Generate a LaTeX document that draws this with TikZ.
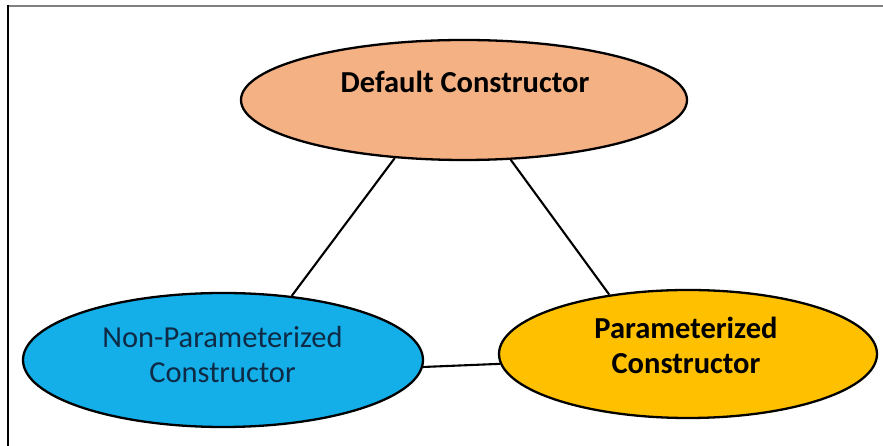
\documentclass[tikz,border=0pt]{standalone}
\usepackage{fontspec}
\setmainfont{Carlito}
\usetikzlibrary{shapes.geometric}
\definecolor{peach}{HTML}{F4B183}
\definecolor{skyblue}{HTML}{14AEE8}
\definecolor{amber}{HTML}{FFC000}
\definecolor{navytext}{HTML}{0E2A45}
\begin{document}
\begin{tikzpicture}[x=1pt,y=1pt,
  bubble/.style={ellipse, draw=black, line width=2.3pt, inner sep=0pt},
  caption/.style={font=\fontsize{30.5}{35}\selectfont, align=center, inner sep=0pt},
  link/.style={draw=black, line width=2.1pt}]
\useasboundingbox (0,0) rectangle (883,446);
% page frame
\draw[gray, line width=1.8pt] (8,440) -- (883,440);
\draw[black, line width=1.4pt] (8,440.9) -- (8,0);
% the three constructor kinds
\node[bubble, fill=peach, minimum width=446, minimum height=120] (def) at (464,346) {};
\node[bubble, fill=skyblue, minimum width=400, minimum height=134] (np) at (223,86) {};
\node[bubble, fill=amber, minimum width=378, minimum height=128] (par) at (688,92) {};
% captions
\node[caption, font=\fontsize{30.5}{35}\selectfont\bfseries, anchor=base] (deftext) at (465,353) {Default Constructor};
\node[caption, text=navytext] (nptext) at (222.5,91.8) {Non-Parameterized\\Constructor};
\node[caption, font=\fontsize{30.5}{35}\selectfont\bfseries] (partext) at (686,100.8) {Parameterized\\Constructor};
% connections
\draw[link] (def.220) -- (np.43.3);
\draw[link] (def.308) -- (par.143.7);
\draw[link] (np.358.6) -- (par.183.3);
\end{tikzpicture}
\end{document}
